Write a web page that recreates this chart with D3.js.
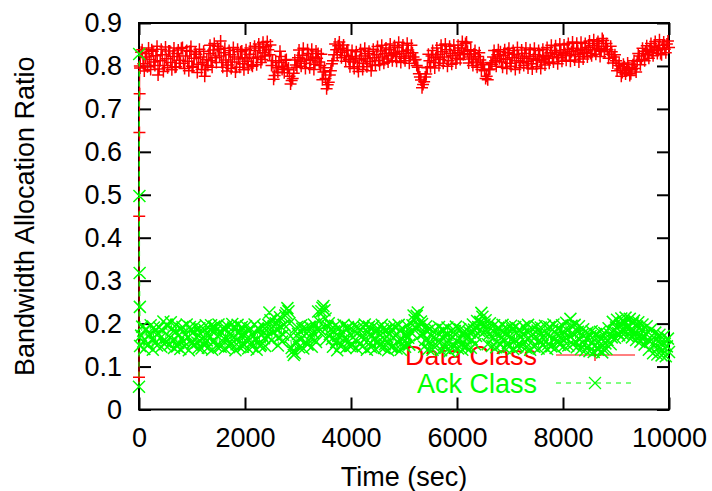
<!DOCTYPE html>
<html>
<head>
<meta charset="utf-8">
<script src="https://cdn.jsdelivr.net/npm/d3@7"></script>
<style>
  html, body { margin: 0; padding: 0; background: #fff; }
  svg { display: block; }
  text { font-family: "Liberation Sans", Arial, Helvetica, sans-serif; }
</style>
</head>
<body>
<svg id="chart" width="712" height="491"></svg>
<script>
// ---- data ----
const xTickValues = [0, 2000, 4000, 6000, 8000, 10000];
const xTickLabels = ["0", "2000", "4000", "6000", "8000", "10000"];
const yTickValues = [0, 0.1, 0.2, 0.3, 0.4, 0.5, 0.6, 0.7, 0.8, 0.9];
const yTickLabels = ["0", "0.1", "0.2", "0.3", "0.4", "0.5", "0.6", "0.7", "0.8", "0.9"];
const seriesNames = ["Data Class", "Ack Class"];

// start-up transient (first seconds)
const startTimes = [0, 4, 8, 12, 16];
const dataStart = [0.075, 0.45, 0.645, 0.735, 0.80];
const ackStart  = [0.053, 0.828, 0.497, 0.318, 0.239];

// samples at t = 40, 80, ..., 10000
const dataClassA = [
  0.832,0.805,0.821,0.798,0.815,0.838,0.809,0.824,0.779,0.812,
  0.826,0.801,0.817,0.835,0.808,0.822,0.797,0.829,0.813,0.841,
  0.806,0.823,0.811,0.834,0.799,0.818,0.827,0.804,0.821,0.808,
  0.776,0.815,0.829,0.812,0.837,0.819,0.846,0.823,0.808,0.831,
  0.814,0.802,0.826,0.809,0.821,0.797,0.816,0.833,0.805,0.819,
  0.811,0.827,0.803,0.818,0.836,0.821,0.842,0.815,0.831,0.845,
  0.838,0.849,0.812,0.778,0.796,0.808,0.822,0.799,0.813,0.791,
  0.776,0.766,0.783,0.802,0.819,0.811,0.825,0.806,0.816,0.829,
  0.813,0.821,0.804,0.818,0.809,0.827,0.786,0.771,0.756,0.779,
  0.805,0.826,0.838,0.847,0.832,0.841,0.824,0.836,0.815,0.822,
  0.809,0.818,0.798,0.814,0.823,0.806,0.817,0.829,0.811,0.802,
  0.819,0.826,0.812,0.835,0.821,0.829,0.816,0.838,0.824,0.831,
  0.827,0.843,0.822,0.834,0.818,0.829,0.837,0.823,0.831,0.814,
  0.801,0.782,0.767,0.757,0.774,0.796,0.812,0.823,0.808,0.819,
  0.827,0.815,0.833,0.821,0.838,0.812,0.829,0.824,0.836,0.818,
  0.831,0.842,0.826,0.852,0.834,0.821,0.816,0.828,0.809,0.822,
  0.814,0.803,0.789,0.776,0.791,0.808,0.821,0.812,0.826,0.817,
  0.809,0.824,0.815,0.831,0.806,0.819,0.827,0.812,0.823,0.808,
  0.818,0.829,0.811,0.822,0.805,0.817,0.826,0.813,0.821,0.809,
  0.815,0.824,0.818,0.831,0.822,0.836,0.827,0.819,0.832,0.825,
  0.829,0.838,0.824,0.833,0.841,0.827,0.836,0.822,0.839,0.831,
  0.835,0.843,0.829,0.847,0.838,0.852,0.841,0.834,0.859,0.846,
  0.838,0.827,0.833,0.821,0.812,0.801,0.793,0.785,0.798,0.789,
  0.796,0.782,0.803,0.794,0.811,0.823,0.815,0.829,0.834,0.826,
  0.838,0.831,0.845,0.836,0.842,0.829,0.848,0.839,0.851,0.843
];
// samples at t = 20, 60, ..., 9980
const dataClassB = [
  0.795,0.838,0.788,0.829,0.842,0.792,0.834,0.801,0.846,0.793,
  0.839,0.787,0.844,0.796,0.835,0.791,0.842,0.798,0.837,0.806,
  0.843,0.794,0.836,0.789,0.845,0.797,0.833,0.785,0.839,0.792,
  0.834,0.791,0.801,0.848,0.797,0.852,0.808,0.839,0.858,0.797,
  0.841,0.788,0.836,0.794,0.843,0.786,0.839,0.797,0.835,0.791,
  0.838,0.795,0.842,0.799,0.846,0.803,0.851,0.808,0.855,0.823,
  0.857,0.826,0.801,0.769,0.812,0.786,0.834,0.792,0.784,0.815,
  0.795,0.758,0.771,0.814,0.797,0.837,0.799,0.841,0.794,0.838,
  0.796,0.839,0.792,0.835,0.829,0.801,0.768,0.796,0.747,0.762,
  0.789,0.812,0.851,0.826,0.856,0.819,0.849,0.811,0.837,0.798,
  0.836,0.794,0.833,0.787,0.838,0.792,0.841,0.798,0.834,0.789,
  0.839,0.801,0.845,0.803,0.848,0.806,0.842,0.809,0.851,0.812,
  0.847,0.811,0.855,0.808,0.849,0.812,0.853,0.806,0.848,0.821,
  0.815,0.797,0.774,0.749,0.763,0.781,0.827,0.798,0.836,0.795,
  0.842,0.801,0.848,0.806,0.851,0.799,0.846,0.804,0.849,0.807,
  0.848,0.815,0.857,0.829,0.856,0.807,0.838,0.801,0.836,0.797,
  0.831,0.792,0.807,0.771,0.768,0.793,0.804,0.836,0.799,0.838,
  0.833,0.797,0.838,0.794,0.841,0.799,0.836,0.792,0.843,0.796,
  0.837,0.801,0.842,0.795,0.838,0.793,0.841,0.798,0.836,0.794,
  0.839,0.802,0.843,0.806,0.848,0.809,0.847,0.805,0.851,0.811,
  0.849,0.813,0.852,0.811,0.856,0.814,0.853,0.809,0.855,0.816,
  0.852,0.821,0.858,0.824,0.861,0.827,0.857,0.822,0.864,0.833,
  0.852,0.818,0.846,0.807,0.826,0.789,0.806,0.776,0.804,0.781,
  0.807,0.778,0.791,0.812,0.786,0.829,0.803,0.841,0.812,0.847,
  0.818,0.852,0.824,0.857,0.829,0.861,0.826,0.856,0.831,0.858
];

const ackClassA = [
  0.172,0.158,0.186,0.149,0.175,0.163,0.191,0.157,0.178,0.166,
  0.184,0.152,0.198,0.171,0.203,0.162,0.179,0.147,0.174,0.188,
  0.159,0.176,0.167,0.192,0.154,0.181,0.169,0.143,0.177,0.164,
  0.185,0.161,0.173,0.196,0.158,0.182,0.171,0.149,0.179,0.166,
  0.188,0.163,0.175,0.199,0.168,0.152,0.181,0.172,0.146,0.177,
  0.165,0.183,0.156,0.171,0.162,0.189,0.148,0.174,0.166,0.185,
  0.197,0.208,0.179,0.213,0.186,0.168,0.192,0.174,0.219,0.236,
  0.201,0.143,0.127,0.158,0.176,0.163,0.188,0.171,0.155,0.182,
  0.167,0.179,0.161,0.186,0.205,0.229,0.241,0.212,0.193,0.176,
  0.164,0.182,0.157,0.171,0.148,0.176,0.165,0.187,0.159,0.173,
  0.185,0.162,0.177,0.153,0.169,0.191,0.166,0.178,0.156,0.172,
  0.163,0.181,0.158,0.174,0.187,0.152,0.169,0.176,0.145,0.166,
  0.172,0.158,0.184,0.163,0.149,0.175,0.167,0.181,0.196,0.208,
  0.218,0.194,0.205,0.176,0.162,0.183,0.157,0.171,0.148,0.165,
  0.178,0.156,0.169,0.152,0.174,0.161,0.147,0.168,0.183,0.159,
  0.166,0.151,0.172,0.145,0.168,0.179,0.163,0.186,0.171,0.192,
  0.204,0.216,0.198,0.185,0.174,0.189,0.167,0.178,0.158,0.172,
  0.183,0.164,0.176,0.155,0.171,0.187,0.162,0.179,0.153,0.168,
  0.175,0.159,0.181,0.166,0.172,0.148,0.169,0.184,0.161,0.177,
  0.164,0.178,0.152,0.171,0.186,0.163,0.175,0.158,0.169,0.181,
  0.167,0.184,0.171,0.195,0.176,0.158,0.181,0.163,0.174,0.152,
  0.165,0.149,0.171,0.156,0.162,0.143,0.158,0.166,0.141,0.154,
  0.162,0.176,0.168,0.183,0.191,0.178,0.197,0.186,0.202,0.189,
  0.196,0.184,0.201,0.179,0.193,0.172,0.185,0.168,0.177,0.163,
  0.158,0.171,0.149,0.162,0.145,0.156,0.139,0.153,0.147,0.134
];
const ackClassB = [
  0.148,0.193,0.141,0.187,0.152,0.196,0.139,0.184,0.149,0.191,
  0.146,0.205,0.157,0.194,0.151,0.188,0.143,0.197,0.155,0.141,
  0.192,0.147,0.198,0.138,0.186,0.149,0.194,0.156,0.189,0.142,
  0.151,0.196,0.144,0.187,0.139,0.193,0.148,0.198,0.146,0.189,
  0.142,0.195,0.147,0.153,0.191,0.138,0.197,0.145,0.192,0.151,
  0.194,0.142,0.189,0.146,0.198,0.139,0.187,0.151,0.193,0.148,
  0.172,0.226,0.161,0.194,0.201,0.149,0.215,0.158,0.197,0.224,
  0.229,0.171,0.135,0.131,0.192,0.145,0.196,0.142,0.189,0.151,
  0.193,0.146,0.198,0.157,0.228,0.186,0.237,0.231,0.164,0.201,
  0.187,0.146,0.195,0.138,0.189,0.151,0.197,0.143,0.192,0.148,
  0.149,0.196,0.143,0.191,0.185,0.147,0.198,0.139,0.193,0.145,
  0.194,0.141,0.189,0.148,0.197,0.143,0.186,0.138,0.191,0.147,
  0.193,0.142,0.197,0.139,0.188,0.146,0.195,0.151,0.179,0.219,
  0.191,0.226,0.173,0.199,0.146,0.194,0.141,0.188,0.139,0.185,
  0.149,0.192,0.138,0.186,0.143,0.191,0.136,0.184,0.147,0.193,
  0.142,0.187,0.139,0.183,0.147,0.191,0.144,0.198,0.152,0.206,
  0.183,0.225,0.179,0.208,0.152,0.201,0.148,0.196,0.145,0.191,
  0.151,0.197,0.143,0.189,0.146,0.195,0.141,0.192,0.147,0.186,
  0.148,0.193,0.144,0.197,0.139,0.188,0.146,0.194,0.142,0.191,
  0.149,0.195,0.141,0.192,0.147,0.198,0.143,0.189,0.151,0.196,
  0.148,0.202,0.149,0.211,0.152,0.197,0.145,0.194,0.141,0.187,
  0.138,0.179,0.136,0.182,0.134,0.176,0.139,0.181,0.133,0.178,
  0.141,0.189,0.152,0.204,0.167,0.209,0.173,0.212,0.175,0.214,
  0.171,0.211,0.168,0.207,0.162,0.203,0.158,0.198,0.151,0.194,
  0.139,0.186,0.131,0.179,0.128,0.174,0.126,0.171,0.124,0.165
];
const sampleStep = 40, offsetB = 20, offsetA = 40;

// ---- layout ----
const svg = d3.select("#chart");
const plotL = 139, plotR = 669, plotT = 23, plotB = 409.5;
const FONT = 27;

const x = d3.scaleLinear().domain([0, 10000]).range([plotL, plotR]);
const y = d3.scaleLinear().domain([0, 0.9]).range([plotB, plotT]);

function buildSeries(start, A, B) {
  const s = startTimes.map((t, i) => ({ t, v: start[i] }));
  A.forEach((v, k) => {
    s.push({ t: offsetB + k * sampleStep, v: B[k] });
    s.push({ t: offsetA + k * sampleStep, v });
  });
  return s;
}
const dataSeries = buildSeries(dataStart, dataClassA, dataClassB);
const ackSeries  = buildSeries(ackStart, ackClassA, ackClassB);

// ---- axes (ticks drawn inward, mirrored) ----
function styleAxis(g) {
  g.select(".domain").remove();
  g.selectAll(".tick line").attr("stroke", "#000").attr("stroke-width", 2);
  g.selectAll(".tick text").attr("fill", "#000").style("font-size", FONT + "px");
}

svg.append("g").attr("transform", `translate(0,${plotB})`)
  .call(d3.axisBottom(x).tickValues(xTickValues).tickSize(-12).tickSizeOuter(0).tickPadding(18)
    .tickFormat((d, i) => xTickLabels[i]))
  .call(styleAxis);
svg.append("g").attr("transform", `translate(0,${plotT})`)
  .call(d3.axisTop(x).tickValues(xTickValues).tickSize(-12).tickSizeOuter(0).tickFormat(""))
  .call(styleAxis);
svg.append("g").attr("transform", `translate(${plotL},0)`)
  .call(d3.axisLeft(y).tickValues(yTickValues).tickSize(-12).tickSizeOuter(0).tickPadding(17)
    .tickFormat((d, i) => yTickLabels[i]))
  .call(styleAxis);
svg.append("g").attr("transform", `translate(${plotR},0)`)
  .call(d3.axisRight(y).tickValues(yTickValues).tickSize(-12).tickSizeOuter(0).tickFormat(""))
  .call(styleAxis);

svg.append("rect")
  .attr("x", plotL).attr("y", plotT)
  .attr("width", plotR - plotL).attr("height", plotB - plotT)
  .attr("fill", "none").attr("stroke", "#000").attr("stroke-width", 2);

// axis titles
svg.append("text")
  .attr("x", (plotL + plotR) / 2).attr("y", 486)
  .attr("text-anchor", "middle").style("font-size", FONT + "px").attr("fill", "#000")
  .text("Time (sec)");
svg.append("text")
  .attr("transform", `translate(34,${(plotT + plotB) / 2}) rotate(-90)`)
  .attr("text-anchor", "middle").style("font-size", FONT + "px").attr("fill", "#000")
  .text("Bandwidth Allocation Ratio");

// ---- marker helpers ----
const M = 6;
function plusPath(pts) {
  return pts.map(([cx, cy]) => `M${cx - M},${cy}h${2 * M}M${cx},${cy - M}v${2 * M}`).join("");
}
function crossPath(pts) {
  return pts.map(([cx, cy]) => `M${cx - M},${cy - M}l${2 * M},${2 * M}M${cx - M},${cy + M}l${2 * M},${-2 * M}`).join("");
}
const line = d3.line().x(d => x(d.t)).y(d => y(d.v));

const legendTextX = 537, legendL1 = 556, legendL2 = 635, legendMid = 595;
const RED = "#ff0000", GREEN = "#00ff00";

// ---- Data Class (red, solid, +) ----
svg.append("text").attr("x", legendTextX).attr("y", 365).attr("text-anchor", "end")
  .style("font-size", FONT + "px").attr("fill", RED).text(seriesNames[0]);
svg.append("line").attr("x1", legendL1).attr("x2", legendL2).attr("y1", 355).attr("y2", 355)
  .attr("stroke", RED).attr("stroke-width", 1);
svg.append("path").attr("d", plusPath([[legendMid, 355]])).attr("stroke", RED).attr("stroke-width", 1.2).attr("fill", "none");

svg.append("path").datum(dataSeries).attr("d", line)
  .attr("fill", "none").attr("stroke", RED).attr("stroke-width", 1);
svg.append("path").attr("d", plusPath(dataSeries.map(d => [x(d.t), y(d.v)])))
  .attr("fill", "none").attr("stroke", RED).attr("stroke-width", 1.5);

// ---- Ack Class (green, dashed, x) ----
svg.append("text").attr("x", legendTextX).attr("y", 393).attr("text-anchor", "end")
  .style("font-size", FONT + "px").attr("fill", GREEN).text(seriesNames[1]);
svg.append("line").attr("x1", legendL1).attr("x2", legendL2).attr("y1", 383).attr("y2", 383)
  .attr("stroke", GREEN).attr("stroke-width", 1).attr("stroke-dasharray", "5,5");
svg.append("path").attr("d", crossPath([[legendMid, 383]])).attr("stroke", GREEN).attr("stroke-width", 1.2).attr("fill", "none");

svg.append("path").datum(ackSeries).attr("d", line)
  .attr("fill", "none").attr("stroke", GREEN).attr("stroke-width", 1).attr("stroke-dasharray", "5,5");
svg.append("path").attr("d", crossPath(ackSeries.map(d => [x(d.t), y(d.v)])))
  .attr("fill", "none").attr("stroke", GREEN).attr("stroke-width", 1.5);
</script>
</body>
</html>
